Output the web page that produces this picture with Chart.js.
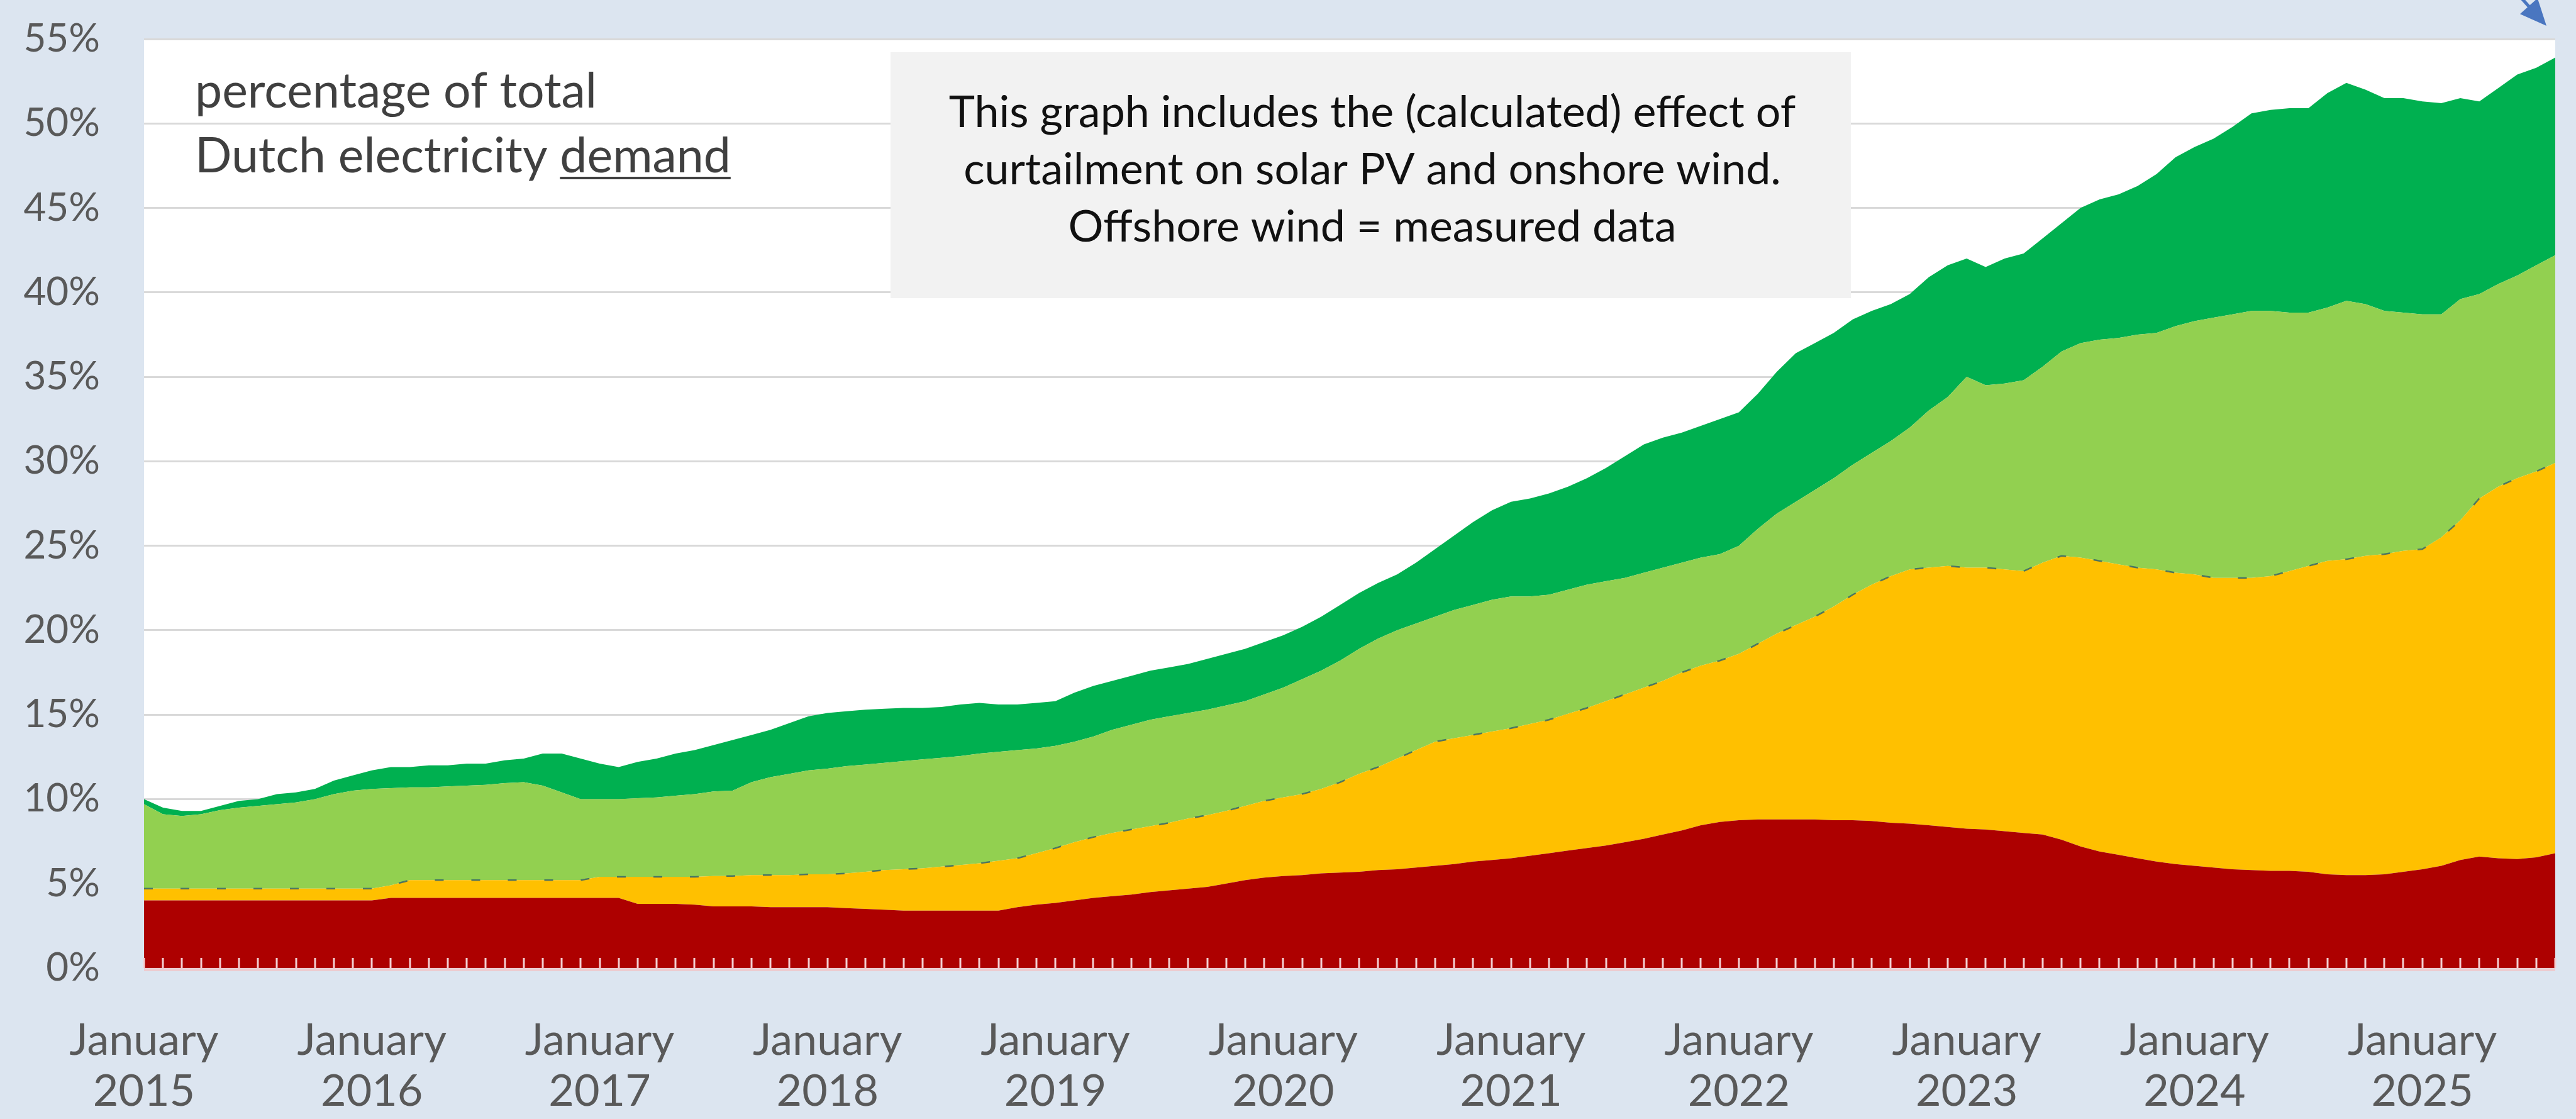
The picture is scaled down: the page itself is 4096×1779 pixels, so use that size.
<!DOCTYPE html>
<html>
<head>
<meta charset="utf-8">
<title>Share of renewables in Dutch electricity demand</title>
<script src="https://cdn.jsdelivr.net/npm/chart.js@4.4.1/dist/chart.umd.min.js"></script>
<style>
  html, body { margin: 0; padding: 0; background: #dce5f0; }
  #wrap { width: 4096px; height: 1779px; }
</style>
</head>
<body>
<div id="wrap"><canvas id="chart" width="4096" height="1779"></canvas></div>
<script>
// months on the x axis: January 2015 .. August 2025
const years = ['2015', '2016', '2017', '2018', '2019', '2020', '2021', '2022', '2023', '2024', '2025'];
const monthNames = ['January', 'February', 'March', 'April', 'May', 'June', 'July',
                    'August', 'September', 'October', 'November', 'December'];
const lastMonth = 'August 2025';

// upper edge of each band, % of total Dutch electricity demand
const topBiomass = [
  4.0, 4.0, 4.0, 4.0, 4.0, 4.0, 4.0, 4.0, 4.0, 4.0, 4.0, 4.0, 4.0,
  4.15, 4.15, 4.15, 4.15, 4.15, 4.15, 4.15, 4.15, 4.15, 4.15, 4.15, 4.15, 4.15,
  3.8, 3.8, 3.8, 3.75, 3.65, 3.65, 3.65,
  3.6, 3.6, 3.6, 3.6, 3.55, 3.5, 3.45,
  3.4, 3.4, 3.4, 3.4, 3.4, 3.4,
  3.6, 3.75, 3.85, 4.0, 4.15, 4.25, 4.35, 4.5, 4.6, 4.7,
  4.8, 5.0, 5.2, 5.35, 5.45, 5.5, 5.6, 5.65, 5.7, 5.8,
  5.85, 5.95, 6.05, 6.15, 6.3, 6.4, 6.5, 6.65, 6.8, 6.95,
  7.1, 7.25, 7.45, 7.65, 7.9, 8.15, 8.45, 8.65, 8.75, 8.8,
  8.8, 8.8, 8.8, 8.75, 8.75, 8.7, 8.6, 8.55, 8.45, 8.35,
  8.25, 8.2, 8.1, 8.0, 7.9, 7.6, 7.2, 6.9, 6.7, 6.5,
  6.3, 6.15, 6.05, 5.95, 5.85, 5.8, 5.75, 5.75, 5.7, 5.55,
  5.5, 5.5, 5.55, 5.7, 5.85, 6.05, 6.4, 6.6, 6.5, 6.45,
  6.55, 6.8
];
const topSolar = [
  4.7, 4.7, 4.7, 4.7, 4.7, 4.7, 4.7, 4.7, 4.7, 4.7, 4.7, 4.7, 4.7,
  4.9,
  5.2, 5.2, 5.2, 5.2, 5.2, 5.2, 5.2, 5.2, 5.2, 5.2,
  5.4, 5.4, 5.4, 5.4, 5.4, 5.4,
  5.45, 5.45, 5.5, 5.5, 5.5, 5.55, 5.55,
  5.6, 5.7, 5.8, 5.85, 5.9, 6.0, 6.1, 6.2, 6.35, 6.5,
  6.8, 7.1, 7.45, 7.75, 8.0, 8.2, 8.4, 8.6, 8.85, 9.05,
  9.3, 9.6, 9.9, 10.1, 10.3, 10.6, 11.0, 11.5, 11.9, 12.4,
  12.9, 13.4, 13.6, 13.8, 14.0, 14.2, 14.45, 14.7, 15.05, 15.4,
  15.8, 16.2, 16.6, 17.0, 17.5, 17.9, 18.2, 18.6, 19.2, 19.8,
  20.3, 20.8, 21.4, 22.1, 22.7, 23.2, 23.6, 23.7, 23.8, 23.7,
  23.7, 23.6, 23.5, 24.0, 24.4, 24.3, 24.1, 23.9, 23.7, 23.6,
  23.4, 23.3, 23.1, 23.1, 23.1, 23.2, 23.5, 23.8, 24.1, 24.2,
  24.4, 24.5, 24.7, 24.8, 25.5, 26.5, 27.8, 28.5, 29.0, 29.4,
  29.9
];
const topOnshore = [
  9.7, 9.1, 9.0, 9.1, 9.35, 9.5, 9.6, 9.7, 9.8, 10.0,
  10.3, 10.5, 10.6, 10.65, 10.7, 10.7, 10.75, 10.8, 10.85, 10.95,
  11.0, 10.8, 10.4, 10.0, 10.0, 10.0, 10.05, 10.1, 10.2, 10.3,
  10.45, 10.5, 11.0, 11.3, 11.5, 11.7, 11.8, 11.95, 12.05, 12.15,
  12.25, 12.35, 12.45, 12.55, 12.7, 12.8, 12.9, 13.0, 13.15, 13.4,
  13.7, 14.1, 14.4, 14.7, 14.9, 15.1, 15.3, 15.55, 15.8, 16.2,
  16.6, 17.1, 17.6, 18.2, 18.9, 19.5, 20.0, 20.4, 20.8, 21.2,
  21.5, 21.8, 22.0, 22.0, 22.1, 22.4, 22.7, 22.9, 23.1, 23.4,
  23.7, 24.0, 24.3, 24.5, 25.0, 26.0, 26.9, 27.6, 28.3, 29.0,
  29.8, 30.5, 31.2, 32.0, 33.0, 33.8, 35.0, 34.5, 34.6, 34.8,
  35.6, 36.5, 37.0, 37.2, 37.3, 37.5, 37.6, 38.0, 38.3, 38.5,
  38.7, 38.9, 38.9, 38.8, 38.8, 39.1, 39.5, 39.3, 38.9, 38.8,
  38.7, 38.7, 39.6, 39.9, 40.5, 41.0, 41.6, 42.2
];
const topOffshore = [
  10.0, 9.5, 9.3, 9.3, 9.6, 9.9, 10.0, 10.3, 10.4, 10.6,
  11.1, 11.4, 11.7, 11.9, 11.9, 12.0, 12.0, 12.1, 12.1, 12.3,
  12.4, 12.7, 12.7, 12.4, 12.1, 11.9, 12.2, 12.4, 12.7, 12.9,
  13.2, 13.5, 13.8, 14.1, 14.5, 14.9, 15.1, 15.2, 15.3, 15.35,
  15.4, 15.4, 15.45, 15.6, 15.7, 15.6, 15.6, 15.7, 15.8, 16.3,
  16.7, 17.0, 17.3, 17.6, 17.8, 18.0, 18.3, 18.6, 18.9, 19.3,
  19.7, 20.2, 20.8, 21.5, 22.2, 22.8, 23.3, 24.0, 24.8, 25.6,
  26.4, 27.1, 27.6, 27.8, 28.1, 28.5, 29.0, 29.6, 30.3, 31.0,
  31.4, 31.7, 32.1, 32.5, 32.9, 34.0, 35.3, 36.4, 37.0, 37.6,
  38.4, 38.9, 39.3, 39.9, 40.9, 41.6, 42.0, 41.5, 42.0, 42.3,
  43.2, 44.1, 45.0, 45.5, 45.8, 46.3, 47.0, 48.0, 48.6, 49.1,
  49.8, 50.6, 50.8, 50.9, 50.9, 51.8, 52.4, 52.0, 51.5, 51.5,
  51.3, 51.2, 51.5, 51.3, 52.1, 52.9, 53.3, 53.9
];

const noteLeft = ['percentage of total', 'Dutch electricity ', 'demand'];
const noteBox = [
  'This graph includes the (calculated) effect of',
  'curtailment on solar PV and onshore wind.',
  'Offshore wind = measured data'
];

const months = [];
for (const y of years) {
  for (const m of monthNames) {
    if (months.length && months[months.length - 1] === lastMonth) break;
    months.push(m + ' ' + y);
  }
}

const FONT = 'Lato, "Open Sans", sans-serif';

// light blue chart background + white plot area
const backdrop = {
  id: 'backdrop',
  beforeDraw(chart) {
    const { ctx, chartArea: a } = chart;
    ctx.save();
    ctx.fillStyle = '#dce5f0';
    ctx.fillRect(0, 0, chart.width, chart.height);
    ctx.fillStyle = '#ffffff';
    ctx.fillRect(a.left, a.top, a.right - a.left, a.bottom - a.top);
    ctx.restore();
  }
};

// monthly tick marks inside the plot + axis line
const monthTicks = {
  id: 'monthTicks',
  afterDatasetsDraw(chart) {
    const { ctx, chartArea: a, scales: { x } } = chart;
    ctx.save();
    ctx.strokeStyle = '#f3cfd2';
    ctx.lineWidth = 3;
    months.forEach((m, i) => {
      const px = Math.round(x.getPixelForValue(i));
      ctx.beginPath();
      ctx.moveTo(px, a.bottom);
      ctx.lineTo(px, a.bottom - 16);
      ctx.stroke();
    });
    ctx.strokeStyle = '#eccbd0';
    ctx.lineWidth = 5;
    ctx.beginPath();
    ctx.moveTo(a.left, a.bottom + 2.5);
    ctx.lineTo(a.right, a.bottom + 2.5);
    ctx.stroke();
    ctx.restore();
  }
};

// text notes and the cut-off arrow in the corner
const notes = {
  id: 'notes',
  afterDatasetsDraw(chart) {
    const { ctx, chartArea: a } = chart;
    ctx.save();

    // left note, no background
    ctx.fillStyle = '#404040';
    ctx.font = '77px ' + FONT;
    ctx.textAlign = 'left';
    ctx.textBaseline = 'alphabetic';
    const lx = a.left + 81;
    ctx.fillText(noteLeft[0], lx, a.top + 109);
    ctx.fillText(noteLeft[1] + noteLeft[2], lx, a.top + 212);
    const ux = lx + ctx.measureText(noteLeft[1]).width;
    const uw = ctx.measureText(noteLeft[2]).width;
    ctx.fillRect(ux, a.top + 219, uw, 4);

    // grey box
    ctx.fillStyle = '#f2f2f2';
    ctx.fillRect(a.left + 1187, a.top + 21, 1527, 391);
    ctx.fillStyle = '#111111';
    ctx.font = '70px ' + FONT;
    ctx.textAlign = 'center';
    const cx = a.left + 1953;
    noteBox.forEach((line, i) => ctx.fillText(line, cx, a.top + 140 + i * 91));

    // arrow pointing at the last value
    const tx = a.right - 14, ty = a.top - 21;
    ctx.strokeStyle = '#4a76c0';
    ctx.fillStyle = '#4a76c0';
    ctx.lineWidth = 5;
    ctx.beginPath();
    ctx.moveTo(tx - 90, ty - 100);
    ctx.lineTo(tx - 20, ty - 22);
    ctx.stroke();
    const ang = Math.atan2(100, 90);
    ctx.beginPath();
    ctx.moveTo(tx, ty);
    ctx.lineTo(tx - 46 * Math.cos(ang - 0.42), ty - 46 * Math.sin(ang - 0.42));
    ctx.lineTo(tx - 46 * Math.cos(ang + 0.42), ty - 46 * Math.sin(ang + 0.42));
    ctx.closePath();
    ctx.fill();
    ctx.restore();
  }
};

function draw() {
  const ctx = document.getElementById('chart').getContext('2d');
  new Chart(ctx, {
    type: 'line',
    data: {
      labels: months,
      datasets: [
        { label: 'Biomass', data: topBiomass, backgroundColor: '#ad0000',
          borderWidth: 0, fill: 'origin' },
        { label: 'Solar PV', data: topSolar, backgroundColor: '#ffc000',
          borderColor: 'rgba(45, 95, 105, 0.8)', borderWidth: 2.5, borderDash: [14, 44],
          fill: '-1' },
        { label: 'Onshore wind', data: topOnshore, backgroundColor: '#92d050',
          borderWidth: 0, fill: '-1' },
        { label: 'Offshore wind', data: topOffshore, backgroundColor: '#00b050',
          borderWidth: 0, fill: '-1' }
      ]
    },
    options: {
      responsive: false,
      animation: false,
      devicePixelRatio: 1,
      layout: { padding: { top: 62, right: 33, left: 0, bottom: 0 } },
      elements: { point: { radius: 0 }, line: { tension: 0 } },
      plugins: {
        legend: { display: false },
        tooltip: { enabled: false }
      },
      scales: {
        x: {
          type: 'category',
          offset: false,
          grid: { display: false },
          border: { display: false },
          afterFit(scale) {
            scale.height = 240;
            scale.paddingLeft = 0;
            scale.paddingRight = 0;
          },
          ticks: {
            autoSkip: false,
            maxRotation: 0,
            minRotation: 0,
            padding: 67,
            color: '#595959',
            font: { family: FONT, size: 70, lineHeight: 1.16 },
            callback(val, i) {
              const lab = months[i];
              return lab.startsWith('January') ? lab.split(' ') : null;
            }
          }
        },
        y: {
          min: 0,
          max: 55,
          afterFit(scale) {
            scale.width = 229;
            scale.paddingTop = 0;
            scale.paddingBottom = 0;
          },
          grid: { color: '#d9d9d9', lineWidth: 3, drawTicks: false },
          border: { display: false },
          ticks: {
            stepSize: 5,
            padding: 70,
            color: '#595959',
            font: { family: FONT, size: 62 },
            callback: v => v + '%'
          }
        }
      }
    },
    plugins: [backdrop, monthTicks, notes]
  });
}

Promise.all([
  document.fonts.load('62px Lato'),
  document.fonts.load('77px Lato')
]).catch(() => {}).then(draw);
</script>
</body>
</html>
